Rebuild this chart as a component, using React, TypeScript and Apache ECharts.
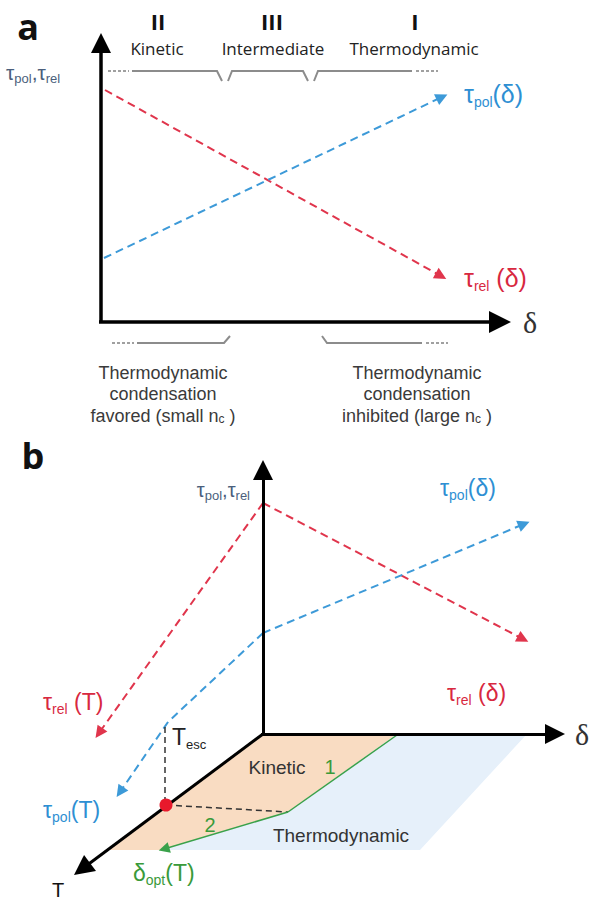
import React, { useEffect, useRef } from "react";
import * as echarts from "echarts";

// ---------- schematic coordinates (one unit = one pixel of the 595x901 sheet) ----------
// Panel a
const aAxisVertical = [[101, 323], [101, 43]];
const aAxisDelta = [[99, 322], [500, 322]];
const aRelCurve = [[105, 90], [441, 276]];
const aPolCurve = [[104, 258], [442, 97]];
const aTopBracketSolid = [
  [[132, 71], [217, 71], [222, 81]],
  [[228, 81], [232, 71], [303, 71], [308, 81]],
  [[314, 81], [318, 71], [412, 71]],
];
const aTopBracketDotted = [
  [[108, 71], [129, 71]],
  [[416, 71], [438, 71]],
];
const aBottomBracketSolid = [
  [[137, 343], [224, 343], [230, 336]],
  [[322, 336], [327, 343], [422, 343]],
];
const aBottomBracketDotted = [
  [[112, 343], [134, 343]],
  [[426, 343], [448, 343]],
];

// Panel b
const bAxisVertical = [[263, 736], [263, 470]];
const bAxisDelta = [[261, 734], [555, 734]];
const bAxisT = [[263, 734], [82, 869]];
const bRelT = [[263, 503], [99, 733]];
const bRelDelta = [[263, 503], [523, 639]];
const bPolDelta = [[263, 633], [524, 524]];
const bPolT = [[263, 633], [168, 722], [120, 792]];
const bEscVertical = [[165, 727], [165, 800]];
const bEscHorizontal = [[166, 805], [288, 812]];
const bOptPath = [[397, 735], [288, 812], [164, 849]];
const bKineticRegion = [[263, 734], [397, 734], [288, 812], [160, 850], [108, 850]];
const bThermoRegion = [[397, 734], [527, 734], [420, 850], [160, 850], [288, 812]];
const bEscapePoint = [[166, 805]];

// ---------- text labels ----------
const labelTexts = [
  "a", "II", "III", "I", "Kinetic", "Intermediate", "Thermodynamic",
  "{m|τ}{s|pol}{m|,τ}{s|rel}", "δ", "{m|τ}{s|pol}{m|(δ)}", "{m|τ}{s|rel}{m| (δ)}",
  "Thermodynamic", "condensation", "favored (small n{s|c} )",
  "Thermodynamic", "condensation", "inhibited (large n{s|c} )",
  "b", "{m|τ}{s|pol}{m|,τ}{s|rel}", "{m|τ}{s|pol}{m|(δ)}", "{m|τ}{s|rel}{m| (δ)}",
  "{m|τ}{s|rel}{m| (T)}", "{m|τ}{s|pol}{m|(T)}", "{m|T}{s|esc}",
  "Kinetic", "1", "2", "Thermodynamic", "{m|δ}{s|opt}{m|(T)}", "T", "δ",
];
const labelAnchors = [
  [28, 26], [158, 21], [272, 21], [415, 21], [157, 48], [273, 48], [414, 48],
  [6, 72], [530, 322], [464, 94], [464, 278],
  [163, 373], [163, 394], [163, 416],
  [417, 373], [417, 394], [417, 416],
  [33, 455], [250, 490], [440, 488], [447, 693],
  [43, 702], [43, 810], [172, 737],
  [277, 767], [330, 767], [210, 825], [341, 835], [133, 873], [58, 890], [582, 734],
];

const RED = "#e0354c";
const BLUE = "#3d9ad8";
const RED_T = "#d8283f";
const BLUE_T = "#2e8fd3";
const GREEN = "#3aa14a";
const GREEN_T = "#3a9a3a";
const GRAY = "#8c8c8c";

function textStyle(i: number) {
  const s: any = { align: "center", verticalAlign: "middle", fontFamily: "Liberation Sans", fontSize: 20, fill: "#222" };
  const sub = (color: string, main: number, subSize: number) => ({
    m: { fontSize: main, lineHeight: main + 4, fill: color, fontFamily: "Liberation Sans" },
    s: { fontSize: subSize, lineHeight: subSize, verticalAlign: "bottom", fill: color, fontFamily: "Liberation Sans" },
  });
  if (i === 0 || i === 17) Object.assign(s, { fontFamily: "Open Sans", fontWeight: "bold", fontSize: 36, fill: "#111" });
  else if (i >= 1 && i <= 3) Object.assign(s, { fontFamily: "Open Sans", fontWeight: "bold", fontSize: 22, fill: "#111" });
  else if (i >= 4 && i <= 6) Object.assign(s, { fontFamily: "Open Sans", fontSize: 17, fill: "#222" });
  else if (i === 7) Object.assign(s, { align: "left", rich: sub("#4b5f7c", 21, 13) });
  else if (i === 8 || i === 30) Object.assign(s, { fontFamily: "Liberation Serif", fontSize: 30, fill: "#333" });
  else if (i === 9) Object.assign(s, { align: "left", rich: sub(BLUE_T, 25, 14) });
  else if (i === 10) Object.assign(s, { align: "left", rich: sub(RED_T, 25, 14) });
  else if (i === 19) Object.assign(s, { align: "left", rich: sub(BLUE_T, 23, 14) });
  else if (i === 20) Object.assign(s, { align: "left", rich: sub(RED_T, 23, 14) });
  else if (i >= 11 && i <= 16) Object.assign(s, { fontSize: 18, fill: "#3a3a3a", rich: { s: { fontSize: 12, lineHeight: 12, verticalAlign: "bottom", fill: "#3a3a3a" } } });
  else if (i === 18) Object.assign(s, { align: "right", rich: sub("#4b5f7c", 20, 13) });
  else if (i === 21) Object.assign(s, { align: "left", rich: sub(RED_T, 23, 14) });
  else if (i === 22) Object.assign(s, { align: "left", rich: sub(BLUE_T, 23, 14) });
  else if (i === 23) Object.assign(s, { align: "left", rich: sub("#222", 23, 13) });
  else if (i === 24 || i === 27) Object.assign(s, { fontSize: 19, fill: "#333" });
  else if (i === 25 || i === 26) Object.assign(s, { fontSize: 20, fill: GREEN_T });
  else if (i === 28) Object.assign(s, { align: "left", rich: sub(GREEN_T, 23, 14) });
  else if (i === 29) Object.assign(s, { fontSize: 20, fill: "#111" });
  return s;
}

function plainLines(paths: number[][][], color: string, width: number, type: any) {
  return {
    type: "lines",
    coordinateSystem: "cartesian2d",
    polyline: true,
    silent: true,
    lineStyle: { color, width, type, opacity: 1 },
    data: paths.map((p) => ({ coords: p })),
    z: 3,
  };
}

// a path whose last segment ends in an arrow head
function arrowLines(path: number[][], color: string, width: number, type: any, size: any) {
  const out: any[] = [];
  if (path.length > 2) out.push(plainLines([path.slice(0, path.length - 1)], color, width, type));
  out.push({
    type: "lines",
    coordinateSystem: "cartesian2d",
    polyline: false,
    silent: true,
    symbol: ["none", "triangle"],
    symbolSize: size,
    lineStyle: { color, width, type, opacity: 1 },
    data: [{ coords: path.slice(path.length - 2) }],
    z: 3,
  });
  return out;
}

export default function App() {
  const ref = useRef<HTMLDivElement>(null);
  useEffect(() => {
    if (!ref.current) return;
    const chart = echarts.init(ref.current, null, { renderer: "svg" });
    const regions = [bKineticRegion, bThermoRegion];
    const regionFill = ["#f9dcc2", "#e6f0fa"];
    chart.setOption({
      animation: false,
      backgroundColor: "#ffffff",
      grid: { left: 0, top: 0, right: 0, bottom: 0 },
      xAxis: { type: "value", min: 0, max: 595, show: false },
      yAxis: { type: "value", min: 0, max: 901, inverse: true, show: false },
      series: [
        {
          type: "custom",
          silent: true,
          z: 1,
          data: regions.map((_, i) => [i, i]),
          renderItem: (params: any, api: any) => ({
            type: "polygon",
            shape: { points: regions[params.dataIndex].map((p) => api.coord(p)) },
            style: { fill: regionFill[params.dataIndex] },
          }),
        },
        // panel a
        plainLines(aTopBracketSolid, GRAY, 2, "solid"),
        plainLines(aTopBracketDotted, "#a0a0a0", 2, [3, 2]),
        plainLines(aBottomBracketSolid, GRAY, 2, "solid"),
        plainLines(aBottomBracketDotted, "#a0a0a0", 2, [3, 2]),
        ...arrowLines(aRelCurve, RED, 2, [8, 5], [9, 12]),
        ...arrowLines(aPolCurve, BLUE, 2, [8, 5], [9, 12]),
        ...arrowLines(aAxisVertical, "#000", 3.5, "solid", [15, 20]),
        ...arrowLines(aAxisDelta, "#000", 3.5, "solid", [15, 22]),
        // panel b
        ...arrowLines(bRelT, RED, 2, [8, 5], [9, 12]),
        ...arrowLines(bRelDelta, RED, 2, [8, 5], [9, 12]),
        ...arrowLines(bPolDelta, BLUE, 2, [8, 5], [9, 12]),
        ...arrowLines(bPolT, BLUE, 2, [8, 5], [9, 12]),
        plainLines([bEscVertical, bEscHorizontal], "#333", 1.5, [6, 4]),
        ...arrowLines(bOptPath, GREEN, 1.5, "solid", [8, 11]),
        ...arrowLines(bAxisVertical, "#000", 3, "solid", [14, 20]),
        ...arrowLines(bAxisDelta, "#000", 3, "solid", [14, 20]),
        ...arrowLines(bAxisT, "#000", 3, "solid", [14, 20]),
        {
          type: "scatter",
          silent: true,
          z: 5,
          symbolSize: 13,
          itemStyle: { color: "#e8192c", opacity: 1 },
          data: bEscapePoint,
        },
        {
          type: "custom",
          silent: true,
          z: 6,
          data: labelAnchors.map((a) => a),
          renderItem: (params: any, api: any) => {
            const i = params.dataIndex;
            const [x, y] = api.coord(labelAnchors[i]);
            return { type: "text", x, y, style: { text: labelTexts[i], ...textStyle(i) } };
          },
        },
      ],
    });
    return () => chart.dispose();
  }, []);
  return <div ref={ref} style={{ position: "fixed", left: 0, top: 0, width: 595, height: 901 }} />;
}
